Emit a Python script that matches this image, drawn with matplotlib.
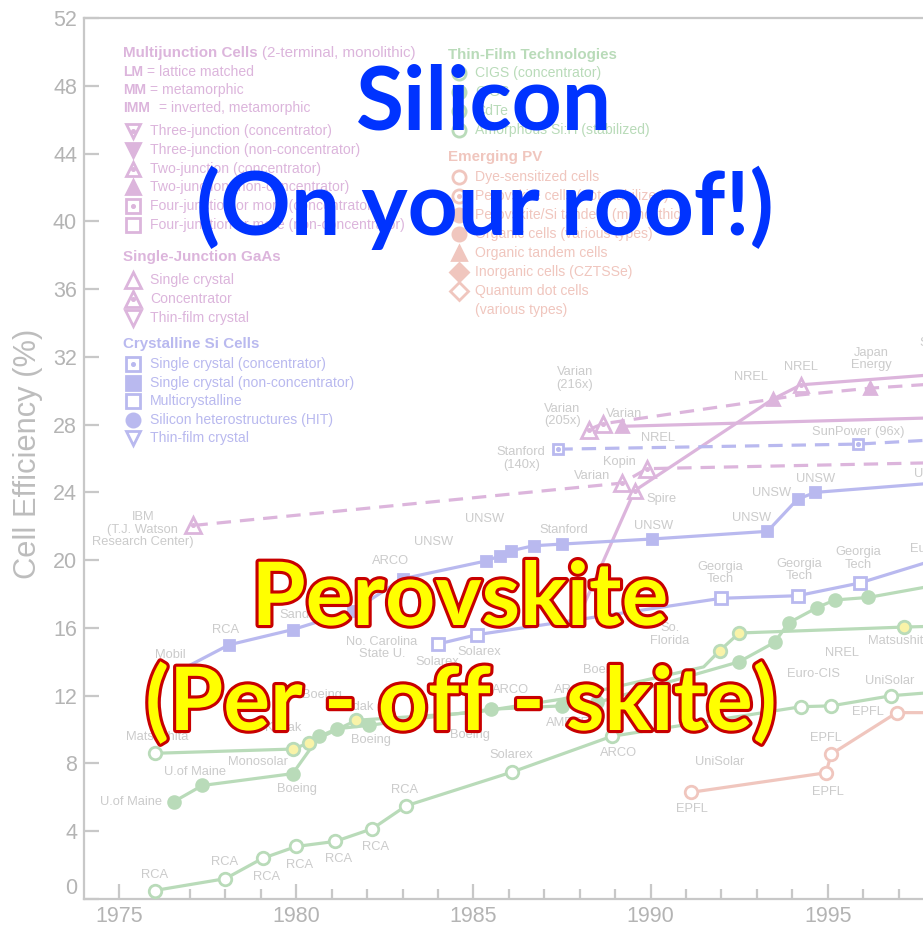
import matplotlib
matplotlib.use("Agg")
import matplotlib.pyplot as plt
import matplotlib.patheffects as pe
from matplotlib import font_manager
from matplotlib.ticker import MultipleLocator

# === Fonts: chart text is a narrow sans, the overlay a bold round one ===
names = {f.name for f in font_manager.fontManager.ttflist}
if "Liberation Sans Narrow" in names:
    CHART_FONT, K = "Liberation Sans Narrow", 1.0
else:
    CHART_FONT, K = "Liberation Sans", 0.84
BIG_FONT = ["Lato", "DejaVu Sans"]
plt.rcParams["font.family"] = [CHART_FONT, "DejaVu Sans"]

# === Data (year, efficiency %) ===
# multijunction / GaAs (purple)
gaas_conc_year = [1977.1, 1989.2, 1989.9, 1998.0]
gaas_conc_eff = [22.05, 24.55, 25.4, 25.75]
tj_year = [1988.0, 1989.55, 1993.45, 1994.25, 1998.0]
tj_eff = [16.8, 24.1, 29.5, 30.35, 30.95]
tjc_year = [1988.25, 1988.65, 1993.45, 1994.2, 1996.2, 1998.0]
tjc_eff = [27.7, 28.05, 29.5, 29.75, 30.15, 30.4]
var_year = [1989.2, 1998.0]
var_eff = [27.9, 28.4]

# crystalline Si (blue)
sc_year = [1977.0, 1978.1, 1979.9, 1981.6, 1983.0, 1985.35, 1985.75, 1986.05,
           1986.7, 1987.5, 1990.05, 1993.3, 1994.15, 1994.65, 1998.0]
sc_eff = [13.8, 15.0, 15.9, 17.0, 18.9, 19.95, 20.25, 20.55,
          20.85, 20.95, 21.25, 21.7, 23.6, 24.0, 24.55]
mc_year = [1984.0, 1985.1, 1992.0, 1994.15, 1995.9, 1998.0]
mc_eff = [15.05, 15.6, 17.75, 17.9, 18.65, 20.0]
scc_year = [1987.4, 1995.85, 1998.0]
scc_eff = [26.55, 26.85, 27.1]

# thin film (green)
asi_year = [1976.0, 1978.0, 1979.05, 1980.0, 1981.1, 1982.15, 1983.1, 1986.1,
            1988.9, 1994.25, 1995.1, 1996.8, 1998.0]
asi_eff = [0.5, 1.2, 2.4, 3.1, 3.4, 4.15, 5.5, 7.5, 9.6, 11.35, 11.4, 12.0, 12.2]
cigs_year = [1976.55, 1977.35, 1979.9, 1980.65, 1981.15, 1982.05, 1985.5, 1987.5,
             1988.5, 1992.5, 1993.5, 1993.9, 1994.7, 1995.2, 1996.15, 1998.0]
cigs_eff = [5.75, 6.7, 7.4, 9.6, 10.05, 10.25, 11.2, 11.4,
            11.6, 14.0, 15.15, 16.3, 17.2, 17.65, 17.8, 18.5]
cdte_year = [1976.0, 1979.9, 1980.35, 1981.7, 1985.0, 1987.5, 1991.5, 1991.95,
             1992.5, 1997.15, 1998.0]
cdte_eff = [8.6, 8.85, 9.2, 10.55, 11.0, 11.8, 13.7, 14.65, 15.7, 16.05, 16.1]

# emerging PV (red)
dye_year = [1991.15, 1994.95, 1995.1, 1996.95, 1998.0]
dye_eff = [6.3, 7.45, 8.55, 11.0, 11.0]

# === Point labels (text, year, efficiency) ===
point_labels = [
    ("IBM\n(T.J. Watson\nResearch Center)", 1975.67, 21.8),
    ("ARCO", 1982.65, 19.95), ("UNSW", 1983.87, 21.06),
    ("Varian\n(216x)", 1987.87, 30.73), ("Varian\n(205x)", 1987.51, 28.57),
    ("Varian", 1989.26, 28.61), ("Stanford\n(140x)", 1986.35, 26.0),
    ("NREL", 1990.22, 27.23), ("Kopin", 1989.11, 25.82), ("Varian", 1988.36, 24.97),
    ("Spire", 1990.32, 23.6), ("NREL", 1992.83, 30.8), ("NREL", 1994.25, 31.39),
    ("Japan\nEnergy", 1996.24, 31.86), ("SunPower (96x)", 1995.87, 27.59),
    ("Spectrolab", 1998.45, 32.8),
    ("UNSW", 1985.31, 22.41), ("Stanford", 1987.54, 21.78), ("UNSW", 1990.08, 22.04),
    ("UNSW", 1992.84, 22.47), ("UNSW", 1993.42, 23.95), ("UNSW", 1994.67, 24.79),
    ("UNSW", 1998.0, 25.1), ("UNSW\nEurosolare", 1998.2, 21.0),
    ("Georgia\nTech", 1991.96, 19.23), ("Georgia\nTech", 1994.2, 19.42),
    ("Georgia\nTech", 1995.87, 20.11),
    ("RCA", 1978.01, 15.88), ("Mobil", 1976.44, 14.4), ("Sandia", 1980.1, 16.76),
    ("No. Carolina\nState U.", 1982.42, 14.8), ("Solarex", 1983.98, 14.0),
    ("Solarex", 1985.18, 14.6),
    ("Matsushita", 1976.07, 9.56), ("Monosolar", 1978.93, 8.1),
    ("U.of Maine", 1977.13, 7.51), ("U.of Maine", 1975.34, 5.74),
    ("Boeing", 1980.01, 6.49), ("Boeing", 1982.11, 9.39), ("Kodak", 1979.63, 10.08),
    ("Kodak", 1981.66, 11.35), ("Boeing", 1980.73, 12.04),
    ("RCA", 1976.0, 1.42), ("RCA", 1977.99, 2.2), ("RCA", 1979.17, 1.32),
    ("RCA", 1980.09, 2.0), ("RCA", 1981.19, 2.34), ("RCA", 1982.23, 3.09),
    ("RCA", 1983.05, 6.43),
    ("Solarex", 1986.06, 8.5), ("ARCO", 1989.11, 8.6), ("UniSolar", 1991.96, 8.1),
    ("So.\nFlorida", 1990.55, 15.6), ("NREL", 1995.4, 14.5), ("Euro-CIS", 1994.6, 13.3),
    ("Matsushita", 1997.01, 15.2), ("UniSolar", 1996.76, 12.87),
    ("EPFL", 1996.15, 11.06), ("EPFL", 1994.94, 9.49), ("EPFL", 1995.02, 6.33),
    ("EPFL", 1991.16, 5.3),
    ("ARCO", 1986.06, 12.34), ("ARCO", 1987.8, 12.34), ("AMETEK", 1987.8, 10.4),
    ("Boeing", 1988.66, 13.5), ("Boeing", 1984.9, 9.7),
]

# === Legend text ===
mj_notes = [("LM", "= lattice matched"), ("MM", "= metamorphic"),
            ("IMM", "= inverted, metamorphic")]
mj_labels = ["Three-junction (concentrator)", "Three-junction (non-concentrator)",
             "Two-junction (concentrator)", "Two-junction (non-concentrator)",
             "Four-junction or more (concentrator)",
             "Four-junction or more (non-concentrator)"]
gaas_labels = ["Single crystal", "Concentrator", "Thin-film crystal"]
si_labels = ["Single crystal (concentrator)", "Single crystal (non-concentrator)",
             "Multicrystalline", "Silicon heterostructures (HIT)", "Thin-film crystal"]
tf_labels = ["CIGS (concentrator)", "CIGS", "CdTe", "Amorphous Si:H (stabilized)"]
epv_labels = ["Dye-sensitized cells", "Perovskite cells (not stabilized)",
              "Perovskite/Si tandem (monolithic)", "Organic cells (various types)",
              "Organic tandem cells", "Inorganic cells (CZTSSe)",
              "Quantum dot cells\n(various types)"]

# marker styles for the legend rows: (marker, fill, centre dot)
mj_marks = [("v", "open", True), ("v", "fill", False), ("^", "open", True),
            ("^", "fill", False), ("s", "open", True), ("s", "open", False)]
gaas_marks = [("^", "open", False), ("^", "open", True), ("v", "open", False)]
si_marks = [("s", "open", True), ("s", "fill", False), ("s", "open", False),
            ("o", "fill", False), ("v", "open", False)]
tf_marks = [("o", "open", True), ("o", "fill", False), ("o", "yellow", False),
            ("o", "open", False)]
epv_marks = [("o", "open", False), ("o", "open", True), ("o", "fill", True),
             ("o", "fill", False), ("^", "fill", False), ("D", "fill", False),
             ("D", "open", False)]

# === Colours (everything is washed out) ===
PURPLE = "#dcb5dc"
BLUE = "#b9b9ef"
GREEN = "#b9dbb9"
RED = "#f0c6be"
YELLOW = "#f9f3a8"
LABEL = "#cbcbcb"
AXIS = "#c8c8c8"
TICKTXT = "#b4b4b4"

W, H = 923, 930
fig = plt.figure(figsize=(W / 100, H / 100), dpi=100)
ax = fig.add_axes([84 / W, 31 / H, 839 / W, 881 / H])


def fpos(x, y):
    # pixel position in the picture -> figure fraction
    return x / W, 1 - y / H


def draw_line(xs, ys, color, dashed=False):
    ls = (0, (4.5, 2.8)) if dashed else "-"
    ax.plot(xs, ys, color=color, lw=2.3, ls=ls, zorder=2, solid_capstyle="round")


def draw_marks(xs, ys, idx, color, marker, fill="open", dot=False, ms=10):
    px = [xs[i] for i in idx]
    py = [ys[i] for i in idx]
    face = {"open": "white", "fill": color, "yellow": YELLOW}[fill]
    ax.plot(px, py, ls="none", marker=marker, ms=ms, mec=color, mfc=face,
            mew=2, zorder=4)
    if dot:
        ax.plot(px, py, ls="none", marker="o", ms=2.6, color=color, zorder=5)


# === Series ===
draw_line(gaas_conc_year, gaas_conc_eff, PURPLE, dashed=True)
draw_line(tj_year, tj_eff, PURPLE)
draw_line(tjc_year, tjc_eff, PURPLE, dashed=True)
draw_line(var_year, var_eff, PURPLE)
draw_line(sc_year, sc_eff, BLUE)
draw_line(mc_year, mc_eff, BLUE)
draw_line(scc_year, scc_eff, BLUE, dashed=True)
draw_line(asi_year, asi_eff, GREEN)
draw_line(cigs_year, cigs_eff, GREEN)
draw_line(cdte_year, cdte_eff, GREEN)
draw_line(dye_year, dye_eff, RED)

draw_marks(gaas_conc_year, gaas_conc_eff, [0, 1, 2], PURPLE, "^", dot=True, ms=12)
draw_marks(tj_year, tj_eff, [1, 3], PURPLE, "^", dot=True, ms=10)
draw_marks(tj_year, tj_eff, [2], PURPLE, "^", fill="fill", ms=9)
draw_marks(tjc_year, tjc_eff, [0, 1], PURPLE, "^", dot=True, ms=12)
draw_marks(tjc_year, tjc_eff, [4], PURPLE, "^", fill="fill", ms=9)
draw_marks(var_year, var_eff, [0], PURPLE, "^", fill="fill", ms=9)

draw_marks(sc_year, sc_eff, list(range(1, 14)), BLUE, "s", fill="fill", ms=6.5)
draw_marks(mc_year, mc_eff, [0, 1, 2, 3, 4], BLUE, "s", ms=8)
draw_marks(scc_year, scc_eff, [0, 1], BLUE, "s", dot=True, ms=7.5)

draw_marks(asi_year, asi_eff, list(range(12)), GREEN, "o", ms=9)
draw_marks(cigs_year, cigs_eff, list(range(15)), GREEN, "o", fill="fill", ms=8.5)
draw_marks(cdte_year, cdte_eff, [1, 2, 3, 7, 8, 9], GREEN, "o", fill="yellow", ms=9)
draw_marks(cdte_year, cdte_eff, [0], GREEN, "o", ms=9)
draw_marks(dye_year, dye_eff, [0, 1, 2, 3], RED, "o", ms=9)

for text, yr, eff in point_labels:
    ax.text(yr, eff, text, ha="center", va="center", fontsize=11 * K,
            color=LABEL, linespacing=1.05, zorder=3)

# === Axes styling ===
ax.set_xlim(1974.01, 1997.69)
ax.set_ylim(0, 52)
ax.set_yticks(range(0, 53, 4))
ax.xaxis.set_major_locator(MultipleLocator(5))
ax.xaxis.set_minor_locator(MultipleLocator(1))
for side in ("left", "bottom", "top"):
    ax.spines[side].set_color(AXIS)
    ax.spines[side].set_linewidth(1.6)
ax.spines["right"].set_visible(False)
ax.tick_params(axis="x", which="major", direction="in", length=11, width=1.6,
               color=AXIS, labelcolor=TICKTXT, labelsize=15.5, pad=5, top=False)
ax.tick_params(axis="x", which="minor", direction="in", length=7, width=1.6,
               color=AXIS, top=False)
ax.tick_params(axis="y", which="major", direction="in", length=11, width=1.6,
               color=AXIS, labelcolor=TICKTXT, labelsize=15.5, pad=5, right=False)
ax.yaxis.get_major_ticks()[0].label1.set_va("bottom")

fig.text(*fpos(28, 454), "Cell Efficiency (%)", rotation=90, ha="center",
         va="center", fontsize=26.5 * K, color="#bdbdbd")


# === Legend block (hand laid out, like the original) ===
def legend_rows(labels, marks, color, x_mark, x_text, y0, step, ms=9.5):
    y = y0
    for label, (mk, fill, dot) in zip(labels, marks):
        fx, fy = fpos(x_mark, y)
        face = {"open": "white", "fill": color, "yellow": YELLOW}[fill]
        ax.plot([fx], [fy], transform=fig.transFigure, marker=mk, ms=ms, mec=color,
                mfc=face, mew=2, ls="none", clip_on=False, zorder=4)
        if dot:
            ax.plot([fx], [fy], transform=fig.transFigure, marker="o", ms=2.6,
                    color=color, ls="none", clip_on=False, zorder=5)
        for line_txt in label.split("\n"):
            fig.text(*fpos(x_text, y), line_txt, ha="left", va="center",
                     fontsize=12 * K, color=color)
            y += step


def header(x, y, text, color, size=13):
    fig.text(*fpos(x, y), text, ha="left", va="center", fontsize=size * K,
             fontweight="bold", color=color)


header(123, 53, "Multijunction Cells", PURPLE)
fig.text(*fpos(262, 53), "(2-terminal, monolithic)", ha="left", va="center",
         fontsize=13 * K, color=PURPLE)
note_x = [147, 150, 159]
for i, (abbr, rest) in enumerate(mj_notes):
    yy = 72 + i * 18
    header(123, yy, abbr, PURPLE, size=12)
    fig.text(*fpos(note_x[i], yy), rest, ha="left", va="center",
             fontsize=12 * K, color=PURPLE)
legend_rows(mj_labels, mj_marks, PURPLE, 133, 150, 131, 18.8)
header(123, 257, "Single-Junction GaAs", PURPLE)
legend_rows(gaas_labels, gaas_marks, PURPLE, 133, 150, 280, 19, ms=11)
header(123, 344, "Crystalline Si Cells", BLUE)
legend_rows(si_labels, si_marks, BLUE, 133, 150, 364, 18.6)

header(448, 55, "Thin-Film Technologies", GREEN)
legend_rows(tf_labels, tf_marks, GREEN, 459, 475, 73, 19)
header(448, 157, "Emerging PV", RED)
legend_rows(epv_labels, epv_marks, RED, 459, 475, 177, 19)

# === Big overlay captions ===
fig.text(*fpos(484, 130), "Silicon", ha="center", va="baseline", fontsize=63,
         fontweight="bold", family=BIG_FONT, color="#0033ff", zorder=10)
fig.text(*fpos(485, 235), "(On your roof!)", ha="center", va="baseline",
         fontsize=63, fontweight="bold", family=BIG_FONT, color="#0033ff", zorder=10)

outline = [pe.withStroke(linewidth=4.5, foreground="#c80000")]
fig.text(*fpos(460, 625), "Perovskite", ha="center", va="baseline", fontsize=63,
         fontweight="bold", family=BIG_FONT, color="#ffff00", zorder=10,
         path_effects=outline)
fig.text(*fpos(461, 730), "(Per - off - skite)", ha="center", va="baseline",
         fontsize=63, fontweight="bold", family=BIG_FONT, color="#ffff00", zorder=10,
         path_effects=outline)

fig.savefig("out.png", dpi=100, facecolor="white")
